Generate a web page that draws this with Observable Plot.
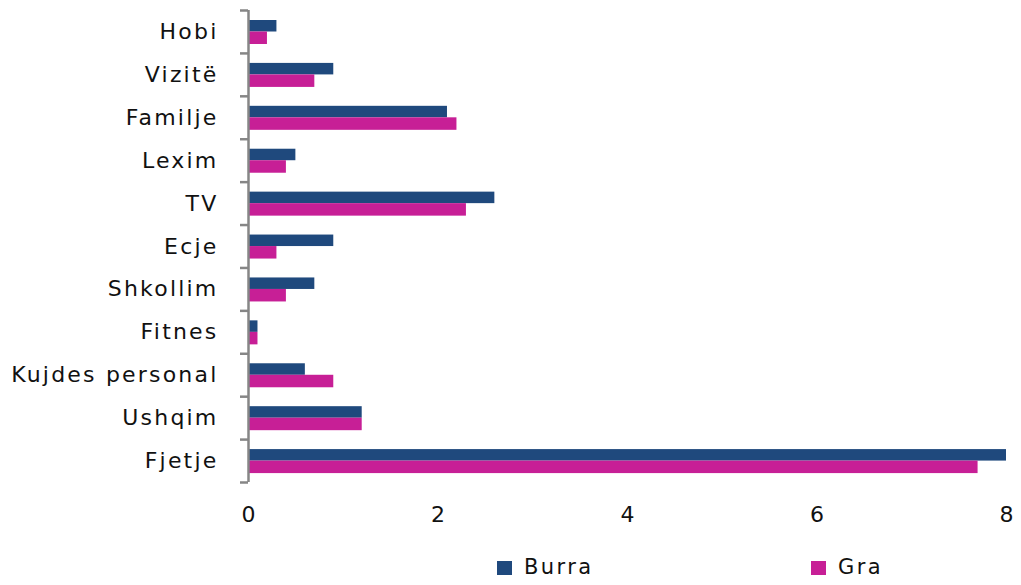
<!DOCTYPE html>
<html>
<head>
<meta charset="utf-8">
<script src="https://cdn.jsdelivr.net/npm/d3@7"></script>
<script src="https://cdn.jsdelivr.net/npm/@observablehq/plot@0.6"></script>
<style>
  html, body { margin: 0; padding: 0; background: #fff; }
  #wrap { position: relative; width: 1021px; height: 585px; font-family: "DejaVu Sans", sans-serif; }
  #legend { position: relative; height: 37px; font-size: 21px; color: #111; letter-spacing: 2.4px; }
  .sw { position: absolute; top: 13px; width: 15px; height: 14px; }
  .lt { position: absolute; top: 5px; line-height: 28px; }
</style>
</head>
<body>
<div id="wrap"></div>
<script>
const categories = ["Hobi","Vizitë","Familje","Lexim","TV","Ecje","Shkollim","Fitnes","Kujdes personal","Ushqim","Fjetje"];
const burra = [0.3, 0.9, 2.1, 0.5, 2.6, 0.9, 0.7, 0.1, 0.6, 1.2, 8.0];
const gra   = [0.2, 0.7, 2.2, 0.4, 2.3, 0.3, 0.4, 0.1, 0.9, 1.2, 7.7];
const xTicks = [0, 2, 4, 6, 8];
const seriesNames = ["Burra", "Gra"];
const seriesColors = ["#1F497D", "#C71F96"];

const W = 1021, H = 548, mt = 10, mb = 66, ml = 248, mr = 15;
const bw = (H - mt - mb) / categories.length;

const dataB = categories.map((c, i) => ({cat: c, v: burra[i]}));
const dataG = categories.map((c, i) => ({cat: c, v: gra[i]}));

const chart = Plot.plot({
  width: W, height: H,
  marginTop: mt, marginBottom: mb, marginLeft: ml, marginRight: mr,
  style: {fontFamily: "DejaVu Sans, sans-serif", fontSize: "22px", color: "#111", background: "#fff"},
  x: {domain: [0, 8], ticks: xTicks, tickSize: 0, tickPadding: 24, line: false, label: null},
  y: {domain: categories, type: "band", padding: 0, round: false, tickSize: 0, tickPadding: 30, label: null},
  marks: [
    Plot.barX(dataB, {x: "v", y: "cat", fill: seriesColors[0], insetTop: 10, insetBottom: bw - 21.5}),
    Plot.barX(dataG, {x: "v", y: "cat", fill: seriesColors[1], insetTop: 21.5, insetBottom: bw - 34}),
    Plot.ruleY(categories, {y: d => d, dy: -bw / 2, x1: 0, x2: 0, insetLeft: -8, stroke: "#868686", strokeWidth: 2.5}),
    Plot.ruleY([categories[categories.length - 1]], {y: d => d, dy: bw / 2, x1: 0, x2: 0, insetLeft: -8, stroke: "#868686", strokeWidth: 2.5}),
    Plot.ruleX([0], {stroke: "#868686", strokeWidth: 2.5})
  ]
});
chart.querySelectorAll("g[aria-label='y-axis tick label'] text").forEach(t => t.setAttribute("letter-spacing", "2.2"));

const wrap = document.getElementById("wrap");
wrap.appendChild(chart);
const legend = document.createElement("div");
legend.id = "legend";
const pos = [[497, 524], [811, 838]];
seriesNames.forEach((n, i) => {
  const s = document.createElement("div");
  s.className = "sw"; s.style.left = pos[i][0] + "px"; s.style.background = seriesColors[i];
  const t = document.createElement("div");
  t.className = "lt"; t.style.left = pos[i][1] + "px"; t.textContent = n;
  legend.appendChild(s); legend.appendChild(t);
});
wrap.appendChild(legend);
</script>
</body>
</html>
